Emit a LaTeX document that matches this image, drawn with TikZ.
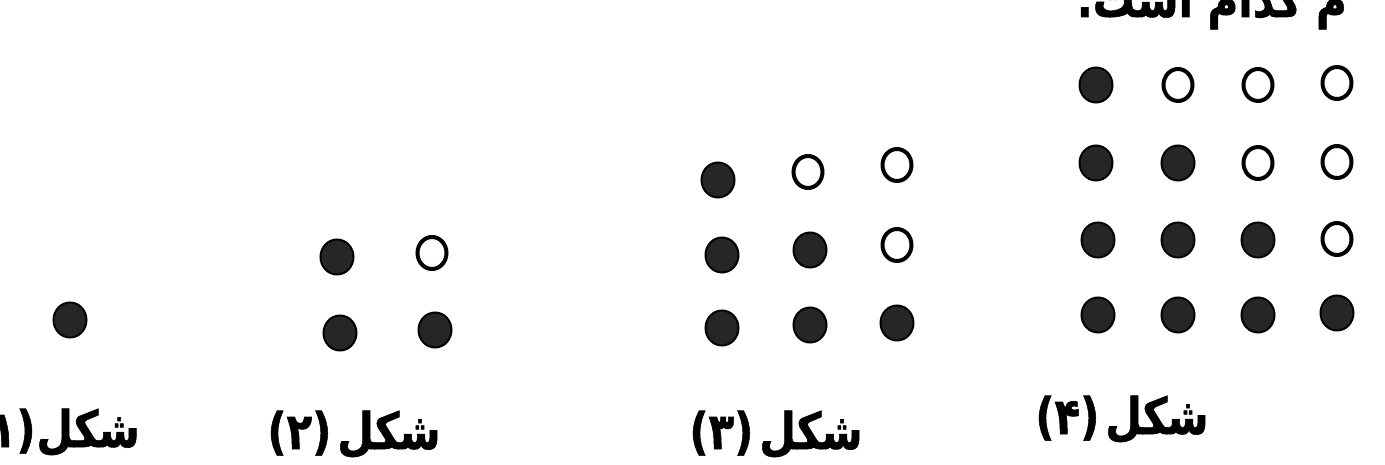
\documentclass[tikz,border=0pt]{standalone}
\usepackage{fontspec}
\usepackage{graphicx}
\usetikzlibrary{shapes.geometric}
\newfontfamily\arabicfont[Script=Arabic, BoldFeatures={FakeBold=1.2}]{DejaVu Sans}
\TeXXeTstate=1
\newcommand\talltext[1]{\scalebox{1}[1.2]{#1}}
\tikzset{
  full/.style={ellipse, inner sep=0pt, minimum width=33pt, minimum height=35pt, fill=black!85, draw=black, line width=2pt},
  hollow/.style={ellipse, inner sep=0pt, minimum width=29pt, minimum height=32pt, fill=white, draw=black, line width=4pt},
  lbl/.style={inner sep=0pt, font=\arabicfont\bfseries\fontsize{42}{48}\selectfont}
}
\begin{document}
\begin{tikzpicture}[x=1pt,y=-1pt]
\useasboundingbox (0,0) rectangle (1385,465);
\clip (0,0) rectangle (1385,465);
\fill[white] (0,0) rectangle (1385,465);
% top text (cut)
\node[lbl, anchor=base east] (top) at (1347,17) {\talltext{\beginR م کدام است.\endR}};
% figure 1
\node[full] (a11) at (70,320) {};
\node[lbl, anchor=base east] (l1) at (140,447) {\talltext{(۱)\hspace{1pt}\beginR شکل\endR}};
% figure 2
\node[full] (b11) at (337,257) {};
\node[hollow] (b12) at (432,253) {};
\node[full] (b21) at (340,333) {};
\node[full] (b22) at (435,330) {};
\node[lbl, anchor=base] (l2) at (354,449) {\talltext{(۲)\hspace{6pt}\beginR شکل\endR}};
% figure 3
\node[full] (c11) at (718,180) {};
\node[hollow] (c12) at (808,172) {};
\node[hollow] (c13) at (897,165) {};
\node[full] (c21) at (722,255) {};
\node[full] (c22) at (810,250) {};
\node[hollow] (c23) at (897,245) {};
\node[full] (c31) at (722,328) {};
\node[full] (c32) at (810,325) {};
\node[full] (c33) at (897,323) {};
\node[lbl, anchor=base] (l3) at (776,449) {\talltext{(۳)\hspace{6pt}\beginR شکل\endR}};
% figure 4
\node[full] (d11) at (1096,85) {};
\node[hollow] (d12) at (1178,85) {};
\node[hollow] (d13) at (1258,85) {};
\node[hollow] (d14) at (1337,83) {};
\node[full] (d21) at (1096,163) {};
\node[full] (d22) at (1178,163) {};
\node[hollow] (d23) at (1258,163) {};
\node[hollow] (d24) at (1337,162) {};
\node[full] (d31) at (1098,240) {};
\node[full] (d32) at (1178,240) {};
\node[full] (d33) at (1258,240) {};
\node[hollow] (d34) at (1337,239) {};
\node[full] (d41) at (1098,315) {};
\node[full] (d42) at (1178,315) {};
\node[full] (d43) at (1258,315) {};
\node[full] (d44) at (1337,313) {};
\node[lbl, anchor=base] (l4) at (1122,434) {\talltext{(۴)\hspace{6pt}\beginR شکل\endR}};
\end{tikzpicture}
\end{document}
